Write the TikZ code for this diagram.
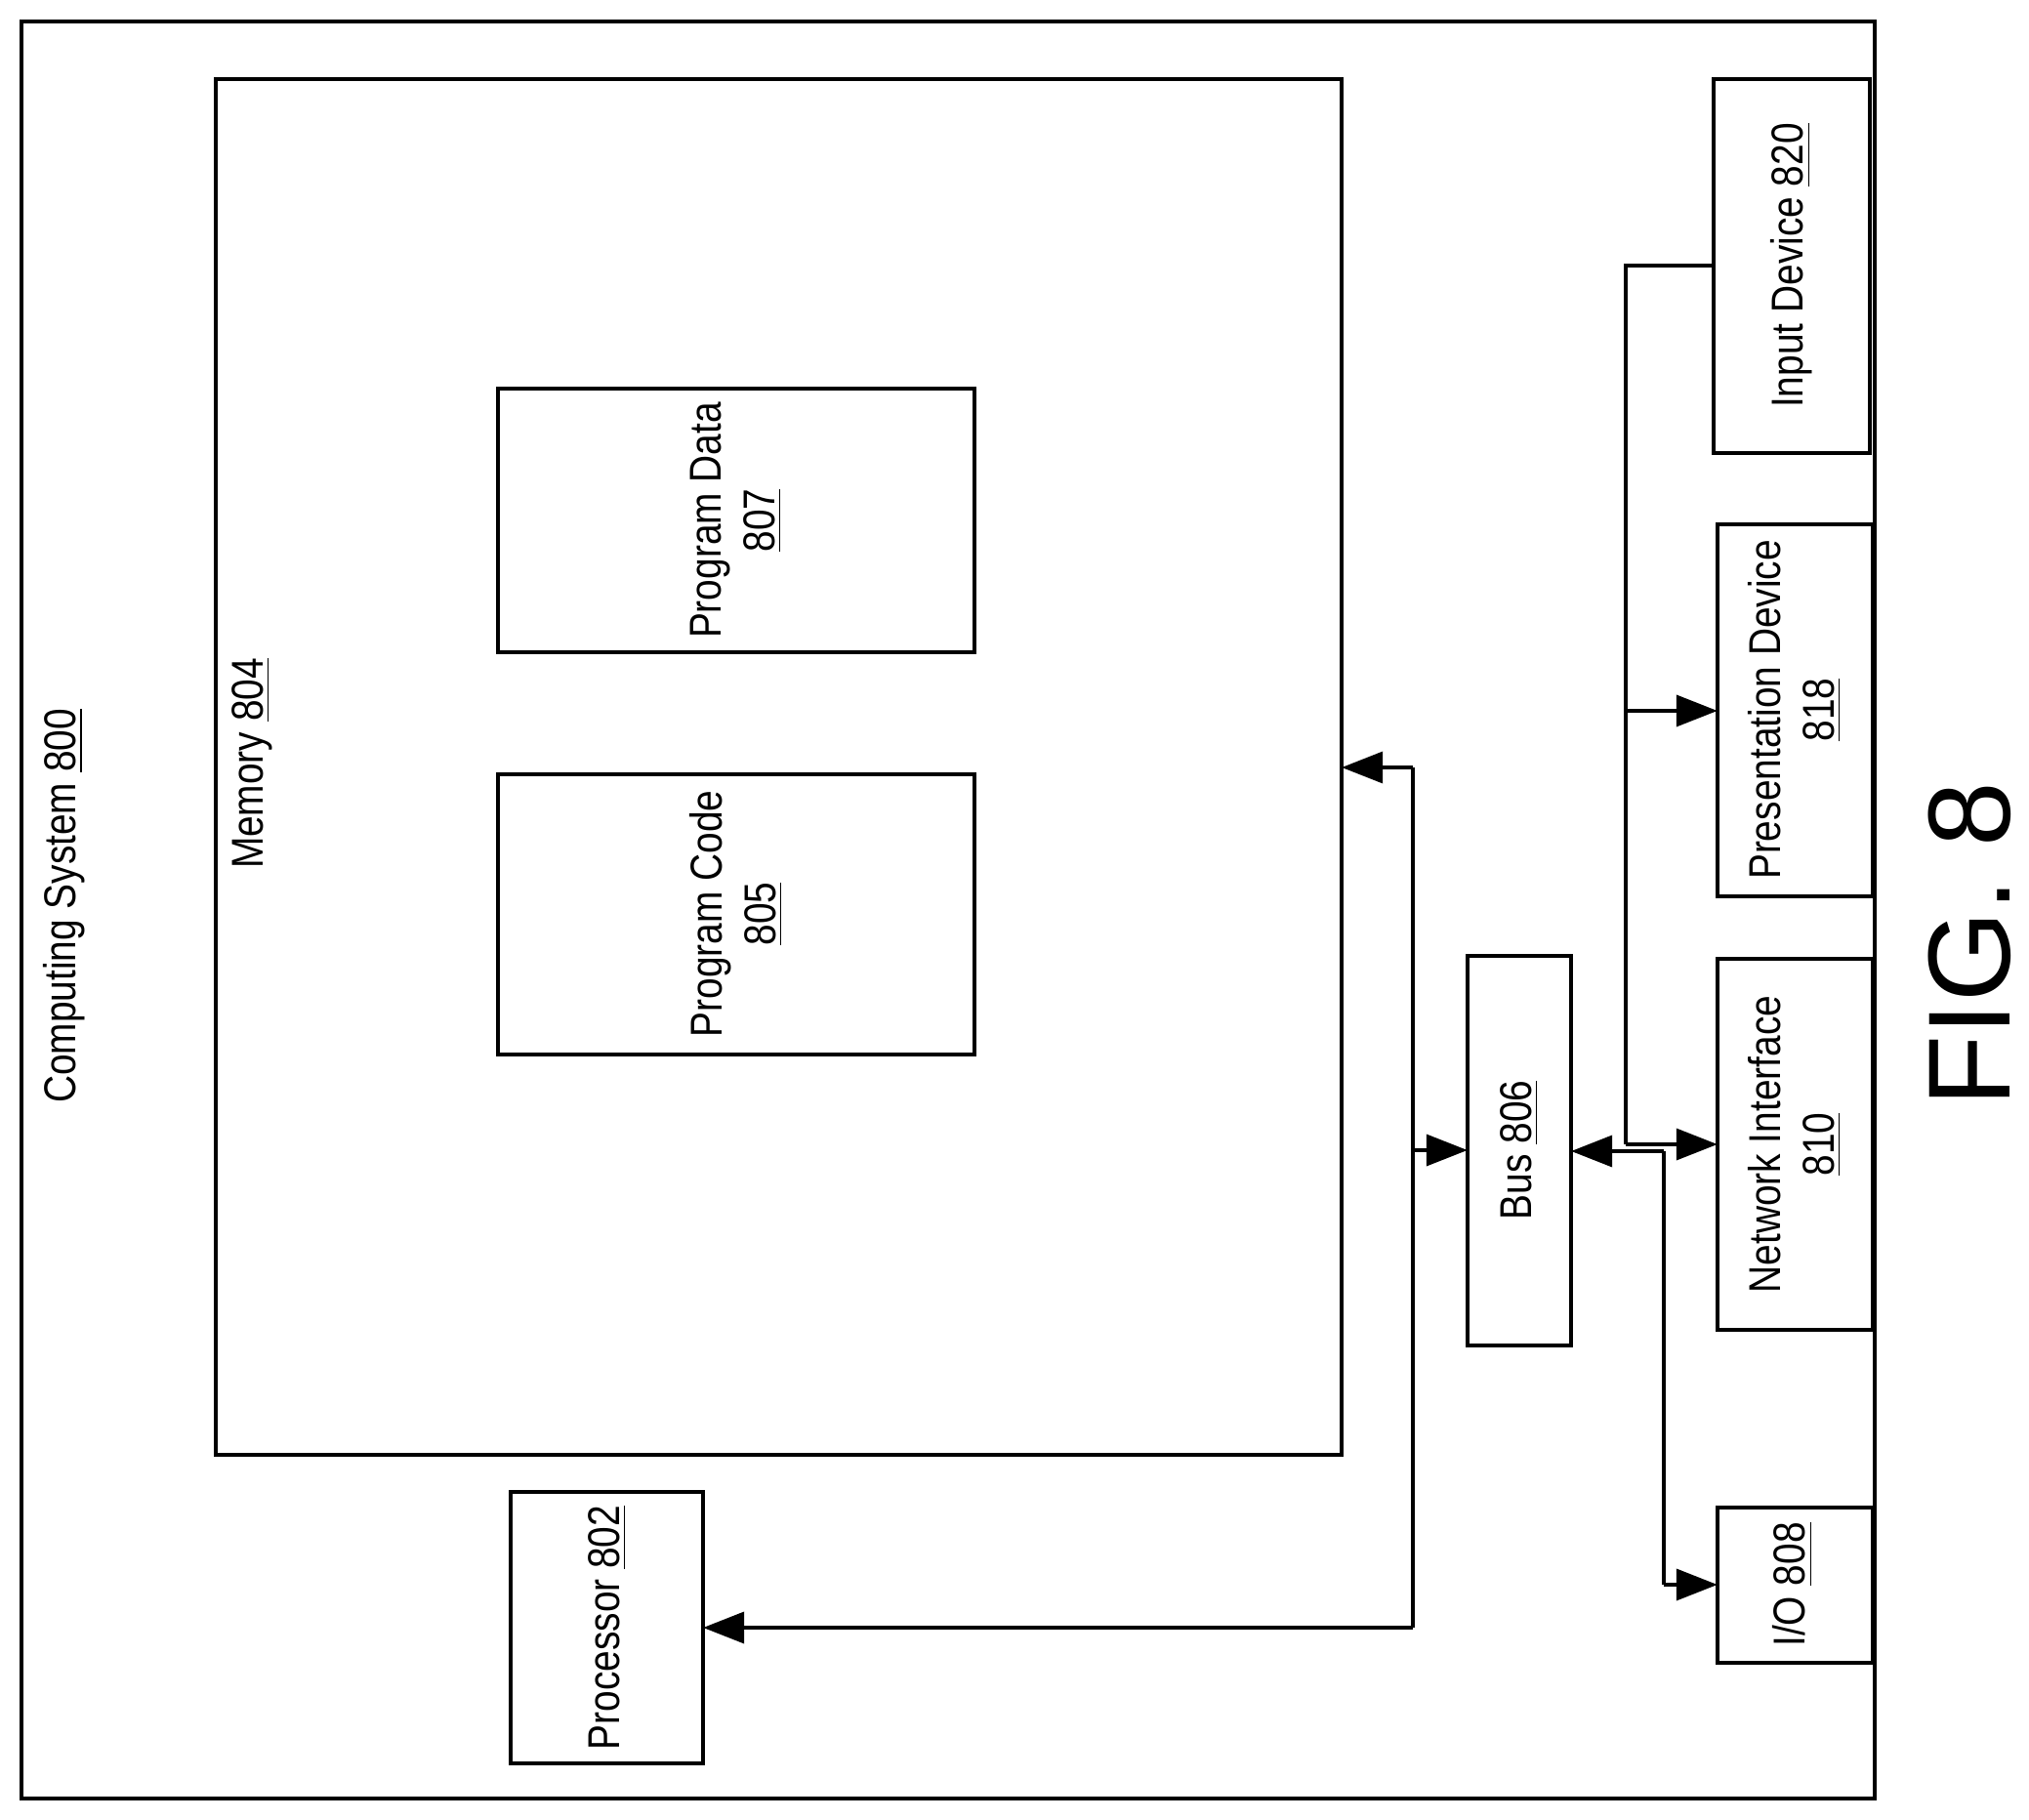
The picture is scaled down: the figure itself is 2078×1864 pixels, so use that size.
\documentclass[tikz,border=0pt]{standalone}
\usepackage{fontspec}
\setmainfont{Liberation Sans}
\newfontfamily\nar[FakeStretch=0.85]{Liberation Sans}
\usetikzlibrary{arrows.meta}
\begin{document}
\begin{tikzpicture}[x=0.01cm,y=-0.01cm,
  box/.style={draw,line width=1.4pt},
  lbl/.style={rotate=90,font=\nar\fontsize{13}{15.5}\selectfont,align=center,inner sep=0},
  arr/.style={line width=1.4pt,-{Triangle[length=12pt,width=9pt]}},
  ln/.style={line width=1.4pt}]
\useasboundingbox (0,0) rectangle (2078,1864);
\draw[box] (22,22) rectangle (1920,1842);
\draw[box] (221,81) rectangle (1374,1490);
\coordinate (memE) at (1374,786);
\draw[box] (510,398) rectangle (998,668);
\node[lbl] (pd) at (754,533) {Program Data\\\underline{807}};
\draw[box] (510,793) rectangle (998,1080);
\node[lbl] (pc) at (754,936) {Program Code\\\underline{805}};
\draw[box] (523,1528) rectangle (720,1806);
\coordinate (procE) at (720,1667);
\node[lbl] (proc) at (622,1667) {Processor \underline{802}};
\draw[box] (1503,979) rectangle (1609,1378);
\coordinate (busW) at (1503,1178);
\coordinate (busE) at (1609,1179);
\node[lbl] (bus) at (1556,1178) {Bus \underline{806}};
\draw[box] (1755,81) rectangle (1915,464);
\node[lbl] (inp) at (1835,272) {Input Device \underline{820}};
\draw[box] (1759,537) rectangle (1918,918);
\node[lbl] (pres) at (1838,727) {Presentation Device\\\underline{818}};
\draw[box] (1759,982) rectangle (1918,1362);
\node[lbl] (net) at (1838,1172) {Network Interface\\\underline{810}};
\draw[box] (1759,1544) rectangle (1918,1703);
\node[lbl] (io) at (1836,1623) {I/O \underline{808}};
\node[lbl] (cs) at (66,928) {Computing System \underline{800}};
\node[lbl] (mlbl) at (258,782) {Memory \underline{804}};
\node[rotate=90,font=\fontsize{34}{34}\selectfont,inner sep=0] (fig) at (2017,967) {FIG. 8};
% connectors
\coordinate (j1) at (1447,786);
\coordinate (j2) at (1447,1667);
\coordinate (j3) at (1447,1178);
\draw[arr] (j1) -- (memE);
\draw[ln] (j1) -- (j2);
\draw[arr] (j2) -- (procE);
\draw[arr] (j3) -- (busW);
\coordinate (k1) at (1704,1179);
\coordinate (k2) at (1704,1623);
\draw[arr] (k1) -- (busE);
\draw[ln] (k1) -- (k2);
\draw[arr] (k2) -- (1759,1623);
\coordinate (v1) at (1665,272);
\coordinate (v2) at (1665,1172);
\draw[ln] (1755,272) -- (v1) -- (v2);
\draw[arr] (1665,728) -- (1759,728);
\draw[arr] (v2) -- (1759,1172);
\end{tikzpicture}
\end{document}
